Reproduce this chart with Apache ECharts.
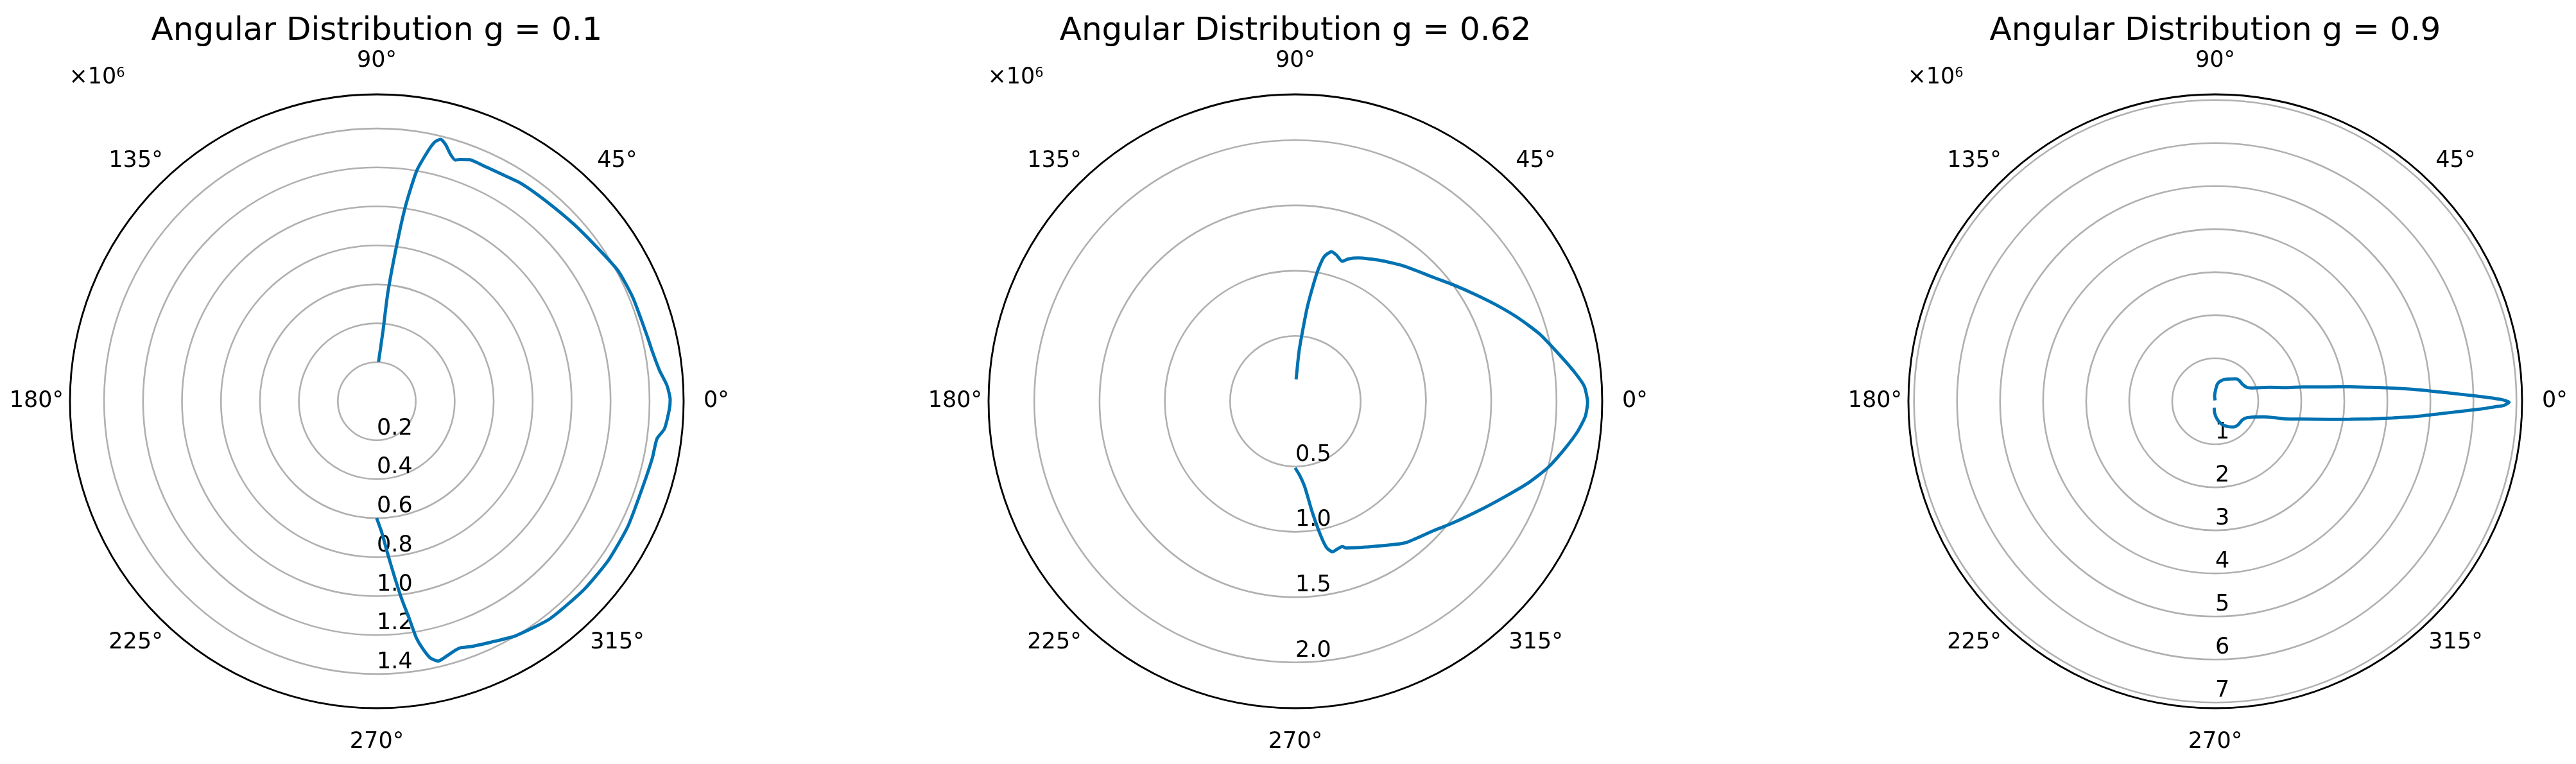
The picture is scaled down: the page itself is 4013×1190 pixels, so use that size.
<!DOCTYPE html>
<html>
<head>
<meta charset="utf-8">
<script src="https://cdn.jsdelivr.net/npm/echarts@6/dist/echarts.min.js"></script>
<style>html,body{margin:0;padding:0;background:#fff}#c{width:4013px;height:1190px}</style>
</head>
<body>
<div id="c"></div>
<script>
// ---------- texts / ticks ----------
const titles = ['Angular Distribution g = 0.1', 'Angular Distribution g = 0.62', 'Angular Distribution g = 0.9'];
const angleTickLabels = ['0°', '45°', '90°', '135°', '180°', '225°', '270°', '315°'];
const radiusTickLabels1 = ['0.2', '0.4', '0.6', '0.8', '1.0', '1.2', '1.4'];
const radiusTickLabels2 = ['0.5', '1.0', '1.5', '2.0'];
const radiusTickLabels3 = ['1', '2', '3', '4', '5', '6', '7'];
const radiusStep = [0.2, 0.5, 1];
const radiusMax = [1.575, 2.35, 7.13];   // in units of 1e6

// ---------- data (angle in degrees, radius in units of 1e6) ----------
const angle1 = [87.5, 85.0, 84.2, 82.7, 81.6, 80.2, 78.5, 77.4, 76.3, 75.0, 73.4, 72.0, 71.0, 68.9, 67.8, 64.8, 60.6, 56.5, 50.0, 41.8, 34.4, 28.4, 22.0, 13.4, 10.3, 6.2, 3.2, 0.3,
  -1.6, -5.5, -7.6, -11.7, -17.9, -26.5, -34.5, -42.2, -51.4, -59.3, -64.5, -68.7, -71.3, -72.5, -74.3, -76.7, -78.1, -79.3, -80.5, -81.5, -82.8, -84.2, -85.8, -88.0, -90.1];
const r1 = [0.202, 0.358, 0.559, 0.813, 1.017, 1.198, 1.307, 1.363, 1.384, 1.364, 1.323, 1.302, 1.312, 1.329, 1.329, 1.327, 1.331, 1.341, 1.345, 1.360, 1.381, 1.408, 1.418, 1.428, 1.437, 1.460, 1.491, 1.506,
  1.502, 1.483, 1.451, 1.444, 1.434, 1.440, 1.442, 1.437, 1.427, 1.399, 1.369, 1.350, 1.336, 1.340, 1.353, 1.370, 1.349, 1.300, 1.232, 1.128, 1.024, 0.908, 0.793, 0.667, 0.599];

const angle2 = [88.1, 85.8, 84.2, 82.8, 81.3, 80.1, 78.7, 76.4, 74.3, 71.5, 69.5, 66.3, 59.0, 51.1, 41.9, 36.5, 30.6, 25.5, 20.5, 15.4, 9.6, 5.6, 2.95, -0.2,
  -2.95, -6.0, -9.9, -14.7, -19.2, -23.9, -29.5, -37.7, -43.1, -52.4, -64.3, -70.9, -72.1, -74.1, -76.1, -77.9, -79.3, -81.4, -83.7, -86.8, -90.2];
const r2 = [0.167, 0.384, 0.535, 0.724, 0.896, 1.031, 1.131, 1.179, 1.163, 1.130, 1.164, 1.198, 1.259, 1.329, 1.421, 1.501, 1.604, 1.709, 1.822, 1.940, 2.062, 2.158, 2.216, 2.238,
  2.224, 2.176, 2.097, 2.000, 1.893, 1.777, 1.660, 1.524, 1.450, 1.370, 1.239, 1.189, 1.169, 1.176, 1.188, 1.149, 1.049, 0.854, 0.662, 0.566, 0.510];

const angle3 = [100, 96.9, 87.8, 83.0, 76.7, 67.6, 55.6, 47.3, 41.2, 32.2, 23.9, 20.4, 14.2, 11.05, 9.33, 7.23, 6.12, 5.12, 4.25, 3.43, 2.38, 1.63, 0.95, 0.55, 0.23, -0.19,
  -0.85, -1.12, -1.61, -2.35, -3.2, -4.45, -5.38, -6.48, -7.6, -9.15, -11.45, -14.1, -17.8, -27.7, -34.4, -45.8, -54.1, -64.2, -75.6, -85.0, -93.0, -99.6];
const r3 = [0.02, 0.124, 0.272, 0.400, 0.473, 0.546, 0.630, 0.708, 0.737, 0.745, 0.798, 0.887, 1.319, 1.658, 2.052, 2.644, 3.152, 3.626, 4.131, 4.620, 5.213, 5.703, 6.210, 6.508, 6.702, 6.829,
  6.702, 6.510, 6.211, 5.706, 5.217, 4.626, 4.138, 3.635, 3.162, 2.656, 2.088, 1.677, 1.187, 0.826, 0.765, 0.762, 0.737, 0.652, 0.539, 0.400, 0.273, 0.150];

// ---------- layout / style ----------
const FONT = 'DejaVu Sans';
const centersX = [587, 2018, 3451];
const CY = 625;
const R = 478;
const LINE = '#0072b2';

const radiusLabelSets = [radiusTickLabels1, radiusTickLabels2, radiusTickLabels3];
const angleSets = [angle1, angle2, angle3];
const rSets = [r1, r2, r3];

function tok(pad) { return { fontSize: 35, fontFamily: FONT, fontWeight: 'normal', color: '#000', padding: pad }; }
const angleRich = {
  a0: tok([0, 0, 0, 39]),
  a1: tok([0, 0, 24, 11]),
  a2: tok([0, 0, 43, 0]),
  a3: tok([0, 1, 24, 0]),
  a4: tok([0, 18, 0, 0]),
  a5: tok([26, 1, 0, 0]),
  a6: tok([43, 0, 0, 0]),
  a7: tok([26, 0, 0, 0])
};
const radiusRich = { r: tok([0, 0, 36, 0]) };

const option = {
  backgroundColor: '#fff',
  animation: false,
  title: [],
  polar: [],
  angleAxis: [],
  radiusAxis: [],
  series: []
};

for (let i = 0; i < 3; i++) {
  const cx = centersX[i];
  option.title.push({
    text: titles[i], left: cx, top: 24, textAlign: 'center', padding: 0,
    textStyle: { fontSize: 50, fontFamily: FONT, fontWeight: 'normal', color: '#000' }
  });
  option.title.push({
    text: '{b|×10}{s|6}', left: cx - 479.5, top: 103.7, padding: 0,
    textStyle: {
      fontSize: 35, fontFamily: FONT, fontWeight: 'normal', color: '#000',
      rich: {
        b: { fontSize: 35, fontFamily: FONT, fontWeight: 'normal', color: '#000' },
        s: { fontSize: 21, fontFamily: FONT, fontWeight: 'normal', color: '#000', verticalAlign: 'top' }
      }
    }
  });
  option.polar.push({ center: [cx, CY], radius: R });
  option.angleAxis.push({
    polarIndex: i, type: 'value', min: -90, max: 270, interval: 45,
    startAngle: 270, clockwise: false, z: 10,
    axisLine: { show: true, lineStyle: { color: '#000', width: 2.8 } },
    axisTick: { show: false },
    splitLine: { show: false },
    axisLabel: {
      margin: -8, fontSize: 35, fontFamily: FONT, color: '#000',
      formatter: function (v) {
        const k = Math.round((((v % 360) + 360) % 360) / 45) % 8;
        return '{a' + k + '|' + angleTickLabels[k] + '}';
      },
      rich: angleRich
    }
  });
  const step = radiusStep[i];
  const labels = radiusLabelSets[i];
  option.radiusAxis.push({
    polarIndex: i, type: 'value', min: 0, max: radiusMax[i], interval: step, z: 1,
    axisLine: { show: false },
    axisTick: { show: false },
    splitLine: { show: true, lineStyle: { color: '#b0b0b0', width: 2.6 } },
    axisLabel: {
      margin: 0, fontSize: 35, fontFamily: FONT, color: '#000',
      formatter: function (v) {
        const k = Math.round(v / step);
        if (Math.abs(v - k * step) > 1e-6 || k < 1 || k > labels.length) return '';
        return '{r|' + labels[k - 1] + '}';
      },
      rich: radiusRich
    }
  });
  const a = angleSets[i], r = rSets[i];
  option.series.push({
    type: 'line', coordinateSystem: 'polar', polarIndex: i, z: 5,
    showSymbol: false, symbol: 'none', smooth: 0.2,
    lineStyle: { color: LINE, width: 5 },
    data: a.map((ang, j) => [r[j], ang])
  });
}

const chart = echarts.init(document.getElementById('c'), null, { renderer: 'canvas', width: 4013, height: 1190 });
chart.setOption(option);
</script>
</body>
</html>
